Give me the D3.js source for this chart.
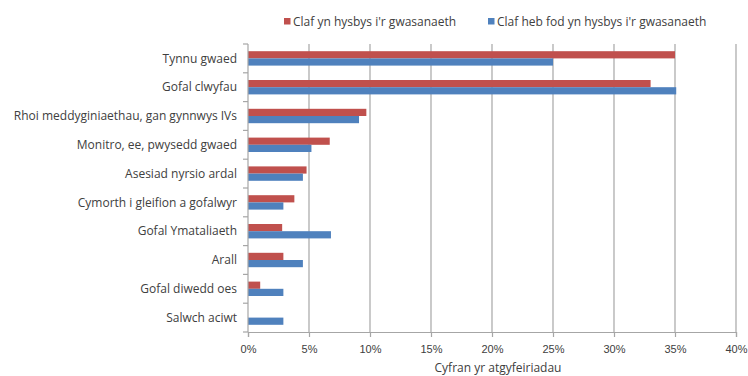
<!DOCTYPE html>
<html>
<head>
<meta charset="utf-8">
<script src="https://cdn.jsdelivr.net/npm/d3@7"></script>
<style>
  html, body { margin: 0; padding: 0; background: #ffffff; }
  svg { display: block; font-family: "Open Sans", "Liberation Sans", sans-serif; }
</style>
</head>
<body>
<svg id="chart" width="748" height="376"></svg>
<script>
// Referral categories, top to bottom
const categories = [
  "Tynnu gwaed",
  "Gofal clwyfau",
  "Rhoi meddyginiaethau, gan gynnwys IVs",
  "Monitro, ee, pwysedd gwaed",
  "Asesiad nyrsio ardal",
  "Cymorth i gleifion a gofalwyr",
  "Gofal Ymataliaeth",
  "Arall",
  "Gofal diwedd oes",
  "Salwch aciwt"
];

const seriesNames = [
  "Claf yn hysbys i'r gwasanaeth",
  "Claf heb fod yn hysbys i'r gwasanaeth"
];

// Share of referrals (%)
const knownValues   = [35, 33, 9.7, 6.7, 4.8, 3.8, 2.8, 2.9, 1.0, 0];
const unknownValues = [25, 35.1, 9.1, 5.2, 4.5, 2.9, 6.8, 4.5, 2.9, 2.9];

const xTicks = [0, 5, 10, 15, 20, 25, 30, 35, 40];
const xTitle = "Cyfran yr atgyfeiriadau";

const colors = ["#c0504d", "#4f81bd"];
const textColor = "#404040";
const fontSize = "12px";

const svg = d3.select("#chart");
const margin = { top: 44, right: 12, bottom: 44, left: 248 };
const W = 748, H = 376;
const innerW = W - margin.left - margin.right;
const innerH = H - margin.top - margin.bottom;

const g = svg.append("g").attr("transform", `translate(${margin.left},${margin.top})`);

const x = d3.scaleLinear().domain([0, 40]).range([0, innerW]);
const y = d3.scaleBand().domain(categories).range([0, innerH]).paddingInner(0.5).paddingOuter(0.25);
const ySub = d3.scaleBand().domain(seriesNames).range([0, y.bandwidth()]);

// Vertical gridlines
g.append("g")
  .selectAll("line")
  .data(xTicks.filter(t => t > 0))
  .join("line")
  .attr("x1", d => x(d)).attr("x2", d => x(d))
  .attr("y1", 0).attr("y2", innerH)
  .attr("stroke", "#a6a6a6").attr("stroke-width", 1.2);

// Bars
const rows = categories.map((c, i) => ({ c, vals: [knownValues[i], unknownValues[i]] }));
const groups = g.append("g").selectAll("g")
  .data(rows).join("g")
  .attr("transform", d => `translate(0,${y(d.c)})`);

groups.selectAll("rect")
  .data(d => d.vals.map((v, k) => ({ v, k })))
  .join("rect")
  .attr("x", 0)
  .attr("y", d => ySub(seriesNames[d.k]))
  .attr("width", d => x(d.v))
  .attr("height", ySub.bandwidth())
  .attr("fill", d => colors[d.k]);

// Bottom axis
const xAxis = g.append("g")
  .attr("transform", `translate(0,${innerH})`)
  .call(d3.axisBottom(x).tickValues(xTicks).tickFormat(d => d + "%").tickSize(5).tickPadding(8));
xAxis.select(".domain").attr("stroke", "#a6a6a6").attr("stroke-width", 1.2);
xAxis.selectAll(".tick line").attr("stroke", "#a6a6a6").attr("stroke-width", 1.2);
xAxis.selectAll("text").attr("fill", textColor).style("font-size", "11px");

// Left axis with tick marks between categories
const yAxisG = g.append("g");
yAxisG.append("line")
  .attr("x1", 0).attr("x2", 0).attr("y1", 0).attr("y2", innerH)
  .attr("stroke", "#a6a6a6").attr("stroke-width", 1.2);
const step = innerH / categories.length;
yAxisG.selectAll("line.tk")
  .data(d3.range(categories.length + 1))
  .join("line").attr("class", "tk")
  .attr("x1", -5).attr("x2", 0)
  .attr("y1", d => d * step).attr("y2", d => d * step)
  .attr("stroke", "#a6a6a6").attr("stroke-width", 1.2);
yAxisG.selectAll("text")
  .data(categories)
  .join("text")
  .attr("x", -11)
  .attr("y", d => y(d) + y.bandwidth() / 2)
  .attr("dy", "0.35em")
  .attr("text-anchor", "end")
  .attr("fill", textColor)
  .style("font-size", fontSize)
  .text(d => d);

// Axis title
svg.append("text")
  .attr("x", margin.left + innerW / 2 + 6)
  .attr("y", 372)
  .attr("text-anchor", "middle")
  .attr("fill", textColor)
  .style("font-size", fontSize)
  .text(xTitle);

// Legend
const legendX = [284, 488];
const legend = svg.append("g").selectAll("g")
  .data(seriesNames).join("g")
  .attr("transform", (d, i) => `translate(${legendX[i]},18)`);
legend.append("rect").attr("width", 6.5).attr("height", 6.5).attr("fill", (d, i) => colors[i]);
legend.append("text")
  .attr("x", 9).attr("y", 3.5).attr("dy", "0.35em")
  .attr("fill", textColor).style("font-size", fontSize)
  .text(d => d);
</script>
</body>
</html>
